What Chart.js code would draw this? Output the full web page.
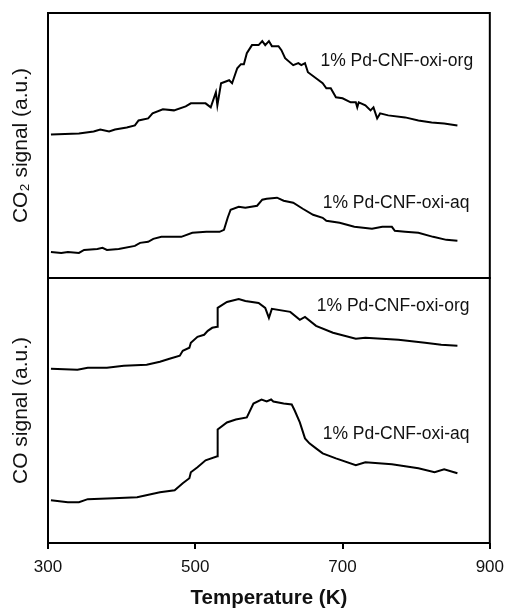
<!DOCTYPE html>
<html>
<head>
<meta charset="utf-8">
<script src="https://cdn.jsdelivr.net/npm/chart.js@4"></script>
<style>
  body { margin: 0; background: #fff; }
</style>
</head>
<body>
<canvas id="myChart" width="512" height="609"></canvas>
<script>
// temperature (K) and signal (a.u.)
let co2OrgT = [304, 342, 362, 371, 383, 391, 407, 418, 423, 436, 442, 456, 471, 487, 494, 514, 521, 528, 530, 535, 546, 550, 557, 562, 566, 570, 577, 586, 591, 595, 600, 604, 613, 617, 622, 633, 640, 644, 649, 653, 664, 673, 678, 684, 691, 700, 711, 718, 720, 722, 731, 738, 742, 747, 751, 762, 785, 803, 821, 838, 856];
let co2OrgSig = [143, 144, 146, 148, 146, 148, 150, 152, 157, 159, 164, 168, 167, 171, 174, 174, 170, 185, 172, 194, 197, 194, 209, 213, 213, 224, 232, 232, 236, 232, 236, 231, 231, 227, 219, 212, 214, 212, 214, 205, 199, 194, 189, 189, 180, 179, 175, 175, 170, 175, 172, 167, 170, 159, 164, 162, 160, 157, 155, 154, 152];

let co2AqT = [304, 318, 327, 342, 349, 367, 374, 380, 396, 418, 425, 436, 443, 454, 481, 496, 515, 533, 539, 544, 548, 559, 568, 584, 591, 597, 611, 620, 633, 646, 660, 673, 678, 696, 716, 740, 754, 767, 771, 785, 803, 823, 841, 856];
let co2AqSig = [26, 25, 26, 25, 28, 29, 30, 28, 29, 32, 35, 36, 39, 41, 41, 45, 46, 46, 48, 60, 68, 71, 70, 72, 78, 79, 80, 77, 75, 69, 63, 60, 57, 55, 51, 49, 51, 51, 47, 46, 45, 41, 38, 37];

let coOrgT = [304, 340, 354, 380, 403, 434, 452, 465, 479, 483, 492, 494, 503, 512, 517, 523, 530, 530.4, 543, 559, 568, 586, 595, 600, 604, 629, 642, 649, 664, 687, 718, 731, 776, 812, 834, 856];
let coOrgSig = [175, 174, 176, 176, 178, 179, 182, 185, 188, 193, 196, 201, 207, 209, 213, 216, 217, 236, 242, 245, 243, 241, 236, 226, 235, 232, 224, 227, 218, 211, 205, 206, 204, 201, 199, 198];

let coAqT = [304, 327, 342, 354, 389, 421, 452, 472, 483, 492, 494, 503, 514, 530, 530.4, 543, 555, 570, 579, 590, 597, 603, 606, 620, 631, 635, 642, 649, 655, 664, 673, 691, 718, 731, 767, 803, 825, 838, 856];
let coAqSig = [43, 41, 41, 44, 45, 46, 51, 53, 60, 65, 71, 76, 83, 87, 114, 121, 124, 126, 140, 144, 142, 144, 142, 140, 139, 133, 121, 105, 100, 95, 90, 85, 78, 81, 79, 75, 71, 74, 70];

let xTicks = [300, 500, 700, 900];
let sampleNames = ["1% Pd-CNF-oxi-org", "1% Pd-CNF-oxi-aq", "1% Pd-CNF-oxi-org", "1% Pd-CNF-oxi-aq"];

function pts(xs, ys) {
  return xs.map((x, i) => ({ x: x, y: ys[i] }));
}

const FONT = "'Liberation Sans', Arial, sans-serif";

// sample names written next to each curve (data coords)
const notes = [
  { text: sampleNames[0], axis: "yTop", x: 670, y: 216 },
  { text: sampleNames[1], axis: "yTop", x: 673, y: 75 },
  { text: sampleNames[2], axis: "yBot", x: 665, y: 238 },
  { text: sampleNames[3], axis: "yBot", x: 673, y: 109 },
];

const framePlugin = {
  id: "frame",
  afterDraw(chart) {
    const ctx = chart.ctx;
    const area = chart.chartArea;
    ctx.save();
    ctx.strokeStyle = "#000";
    ctx.lineWidth = 2;
    ["yTop", "yBot"].forEach((id) => {
      const s = chart.scales[id];
      ctx.strokeRect(area.left, s.top, area.right - area.left, s.bottom - s.top);
    });
    ctx.fillStyle = "#111";
    ctx.font = "17.5px " + FONT;
    ctx.textBaseline = "middle";
    ctx.textAlign = "left";
    notes.forEach((n) => {
      ctx.fillText(n.text, chart.scales.x.getPixelForValue(n.x), chart.scales[n.axis].getPixelForValue(n.y));
    });
    ctx.restore();
  },
};

let lineStyle = { borderColor: "#000", borderWidth: 2, pointRadius: 0, tension: 0, fill: false };

let chart1 = document.getElementById("myChart").getContext("2d");
const myChart = new Chart(chart1, {
  type: "line",
  data: {
    datasets: [
      { ...lineStyle, label: "CO2 org", data: pts(co2OrgT, co2OrgSig), yAxisID: "yTop" },
      { ...lineStyle, label: "CO2 aq", data: pts(co2AqT, co2AqSig), yAxisID: "yTop" },
      { ...lineStyle, label: "CO org", data: pts(coOrgT, coOrgSig), yAxisID: "yBot" },
      { ...lineStyle, label: "CO aq", data: pts(coAqT, coAqSig), yAxisID: "yBot" },
    ],
  },
  options: {
    responsive: false,
    animation: false,
    layout: { padding: { top: 13, right: 16, left: 0, bottom: 0 } },
    plugins: { legend: { display: false }, tooltip: { enabled: false } },
    scales: {
      x: {
        type: "linear",
        min: 300,
        max: 900,
        afterBuildTicks: (s) => { s.ticks = xTicks.map((v) => ({ value: v })); },
        afterFit: (s) => { s.height = 66; },
        ticks: { color: "#111", font: { family: FONT, size: 17 }, padding: 8, maxRotation: 0 },
        grid: { drawOnChartArea: false, drawTicks: true, tickLength: 6, color: "#000", lineWidth: 2 },
        border: { display: false },
        title: {
          display: true,
          text: "Temperature (K)",
          color: "#111",
          font: { family: FONT, size: 20.5, weight: "bold" },
          padding: { top: 0, bottom: -2 },
        },
      },
      yTop: {
        type: "linear",
        position: "left",
        stack: "panels",
        stackWeight: 1,
        weight: 1,
        min: 0,
        max: 264,
        afterFit: (s) => { s.width = 48; },
        ticks: { display: false },
        grid: { display: false },
        border: { display: false },
        title: {
          display: true,
          text: "CO\u2082 signal (a.u.)",
          color: "#111",
          font: { family: FONT, size: 21 },
          padding: { top: 9, bottom: 0 },
        },
      },
      yBot: {
        type: "linear",
        position: "left",
        stack: "panels",
        stackWeight: 1,
        weight: 0,
        min: 0,
        max: 266,
        afterFit: (s) => { s.width = 48; },
        ticks: { display: false },
        grid: { display: false },
        border: { display: false },
        title: {
          display: true,
          text: "CO signal (a.u.)",
          color: "#111",
          font: { family: FONT, size: 21 },
          padding: { top: 9, bottom: 0 },
        },
      },
    },
  },
  plugins: [framePlugin],
});
</script>
</body>
</html>
